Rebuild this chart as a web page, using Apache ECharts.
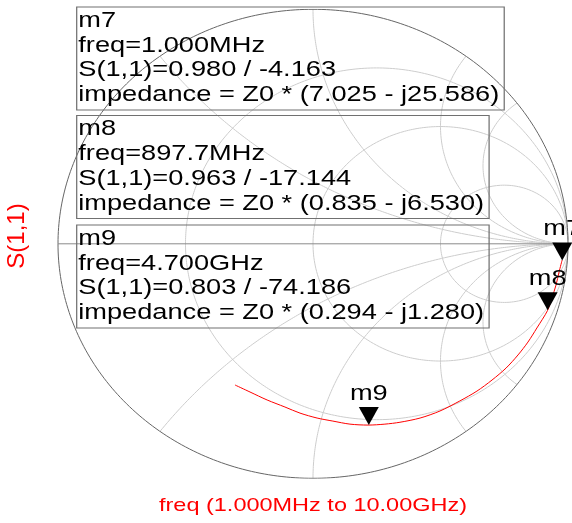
<!DOCTYPE html>
<html>
<head>
<meta charset="utf-8">
<script src="https://cdn.jsdelivr.net/npm/echarts@6/dist/echarts.min.js"></script>
<style>
html,body{margin:0;padding:0;background:#fff;}
#chart{width:572px;height:523px;}
</style>
</head>
<body>
<div id="chart"></div>
<script>
// smith grid: constant resistance circles and reactance arcs
var rCircles = [1/3, 1, 3];
var xArcs = [0.5, 1, 2, 3];

// S(1,1) trace, reflection coeff (1MHz -> 10GHz)
var traceRe = [0.977, 0.965, 0.953, 0.937, 0.920, 0.878, 0.843, 0.804, 0.757, 0.702, 0.643, 0.576, 0.498, 0.420, 0.341, 0.282, 0.216, 0.145, 0.078, 0.016, -0.051, -0.110, -0.180, -0.247, -0.306];
var traceIm = [-0.069, -0.120, -0.176, -0.231, -0.284, -0.359, -0.419, -0.474, -0.530, -0.581, -0.628, -0.670, -0.713, -0.743, -0.761, -0.769, -0.773, -0.769, -0.756, -0.743, -0.722, -0.696, -0.666, -0.632, -0.602];

// marker readouts
var markerNames = ['m7', 'm8', 'm9'];
var markerFreq = ['1.000MHz', '897.7MHz', '4.700GHz'];
var markerMag = [0.980, 0.963, 0.803];
var markerAng = [-4.163, -17.144, -74.186];
var markerZ = ['(7.025 - j25.586)', '(0.835 - j6.530)', '(0.294 - j1.280)'];

var boxTop = [7, 115.5, 225];
var stretch = 1.236;   // text in the picture is wider than normal

function gam(r, x) {
	var d = (r + 1) * (r + 1) + x * x;
	return [(r * r + x * x - 1) / d, 2 * x / d];
}

var series = [];
function gridLine(pts, color) {
	series.push({
		type: 'line', data: pts, showSymbol: false, silent: true, animation: false,
		lineStyle: { color: color, width: 1 }, z: 1
	});
}
// resistance circles
rCircles.forEach(function (r) {
	var pts = [];
	for (var i = 1; i < 400; i++) {
		var phi = -Math.PI / 2 + Math.PI * i / 400;
		pts.push(gam(r, Math.tan(phi)));
	}
	gridLine(pts, '#cdcdcd');
});
// reactance arcs, both signs
xArcs.forEach(function (x) {
	[x, -x].forEach(function (xx) {
		var pts = [];
		for (var i = 0; i < 300; i++) {
			var th = Math.PI / 2 * i / 300;
			pts.push(gam(Math.tan(th), xx));
		}
		pts.push([1, 0]);
		gridLine(pts, '#cdcdcd');
	});
});
// outer circle r = 0
var outer = [];
for (var i = 0; i <= 360; i++) {
	outer.push([Math.cos(i * Math.PI / 180), Math.sin(i * Math.PI / 180)]);
}
gridLine(outer, '#666');
gridLine([[-1, 0], [1, 0]], '#8a8a8a');

// trace
var trace = traceRe.map(function (v, i) { return [v, traceIm[i]]; });
series.push({
	type: 'line', data: trace, showSymbol: false, smooth: 0.3, animation: false,
	lineStyle: { color: '#ff0000', width: 1 }, z: 3
});

// markers
var markerData = markerMag.map(function (m, i) {
	var a = markerAng[i] * Math.PI / 180;
	return [m * Math.cos(a), m * Math.sin(a), i];
});
series.push({
	type: 'custom', data: markerData, animation: false, z: 5,
	renderItem: function (params, api) {
		var p = api.coord([api.value(0), api.value(1)]);
		var idx = api.value(2);
		return {
			type: 'group', x: p[0], y: p[1], children: [
				{ type: 'polygon', shape: { points: [[-10, -18], [10, -18], [0, 0]] }, style: { fill: '#000' } },
				{
					type: 'text', x: 0, y: -20.5, scaleX: stretch,
					style: { text: markerNames[idx], fontSize: 22, fontFamily: 'Liberation Sans', fill: '#000', align: 'center', verticalAlign: 'bottom' }
				}
			]
		};
	}
});

// readout boxes
var graphics = markerNames.map(function (n, i) {
	var lines = [
		n,
		'freq=' + markerFreq[i],
		'S(1,1)=' + markerMag[i].toFixed(3) + ' / ' + markerAng[i].toFixed(3),
		'impedance = Z0 * ' + markerZ[i]
	];
	return {
		type: 'text', x: 76.7, y: boxTop[i], scaleX: stretch, z: 10,
		style: {
			text: lines.join('\n'), fontSize: 22, fontFamily: 'Liberation Sans', fill: '#000',
			lineHeight: 24.7, borderColor: '#707070', borderWidth: 1, padding: [1.5, 4, 2.7, 1.3]
		}
	};
});
graphics.push({
	type: 'text', x: 17, y: 236, rotation: Math.PI / 2,
	style: { text: 'S(1,1)', fontSize: 24, fontFamily: 'Liberation Sans', fill: '#ff0000', align: 'center', verticalAlign: 'middle' }
});
graphics.push({
	type: 'text', x: 313, y: 505.5, scaleX: stretch,
	style: { text: 'freq (1.000MHz to 10.00GHz)', fontSize: 19, fontFamily: 'Liberation Sans', fill: '#ff0000', align: 'center', verticalAlign: 'middle' }
});

var chart = echarts.init(document.getElementById('chart'));
chart.setOption({
	animation: false,
	grid: { left: 58, top: 9.3, width: 510, height: 469 },
	xAxis: { type: 'value', min: -1, max: 1, show: false },
	yAxis: { type: 'value', min: -1, max: 1, show: false },
	series: series,
	graphic: graphics
});
</script>
</body>
</html>
